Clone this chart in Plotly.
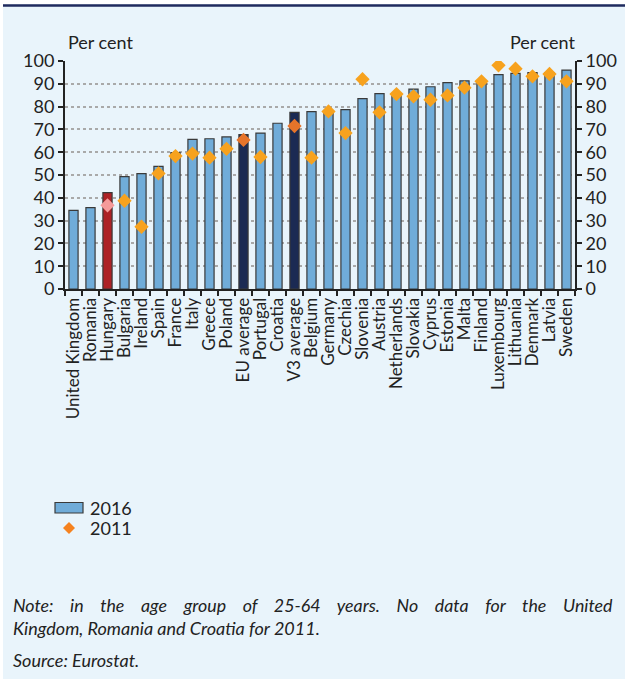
import plotly.graph_objects as go

categories = ["United Kingdom", "Romania", "Hungary", "Bulgaria", "Ireland", "Spain", "France",
              "Italy", "Greece", "Poland", "EU average", "Portugal", "Croatia", "V3 average",
              "Belgium", "Germany", "Czechia", "Slovenia", "Austria", "Netherlands", "Slovakia",
              "Cyprus", "Estonia", "Malta", "Finland", "Luxembourg", "Lithuania", "Denmark",
              "Latvia", "Sweden"]
values_2016 = [34.5, 35.7, 42.3, 49.3, 50.6, 53.8, 59.8, 65.6, 65.9, 66.7, 67.7, 68.4, 72.7, 77.5,
               77.8, 77.9, 78.7, 83.5, 85.7, 85.6, 87.7, 88.7, 90.5, 91.3, 91.2, 94.0, 94.6, 94.9,
               94.9, 96.0]
values_2011 = [None, None, 36.7, 38.7, 27.3, 50.7, 58.3, 59.4, 57.6, 61.5, 65.4, 57.9, None, 71.5,
               57.6, 77.9, 68.4, 92.0, 77.5, 85.5, 84.5, 83.0, 84.9, 88.3, 91.1, 98.1, 96.6, 93.3,
               94.3, 91.1]
y_ticks = [0, 10, 20, 30, 40, 50, 60, 70, 80, 90, 100]

BLUE = "#70acd9"
RED = "#ad2226"
NAVY = "#1b2a53"
ORANGE = "#f7a21e"
DORANGE = "#e6742a"
PINK = "#f59a9a"

bar_colors = []
dia_colors = []
for c in categories:
    if c == "Hungary":
        bar_colors.append(RED); dia_colors.append(PINK)
    elif c in ("EU average", "V3 average"):
        bar_colors.append(NAVY); dia_colors.append(DORANGE)
    else:
        bar_colors.append(BLUE); dia_colors.append(ORANGE)

FONT = "Lato"
TXT = "#222222"

fig = go.Figure()
fig.add_trace(go.Bar(x=categories, y=values_2016, name="2016", width=0.54,
                     marker=dict(color=bar_colors, line=dict(color="#3a3a3a", width=1.2)),
                     showlegend=False))
fig.add_trace(go.Scatter(x=categories, y=values_2011, name="2011", mode="markers",
                         marker=dict(symbol="diamond", size=11, color=dia_colors),
                         showlegend=False))
# right axis helper
fig.add_trace(go.Scatter(x=[categories[0]], y=[None], yaxis="y2", showlegend=False,
                         hoverinfo="skip"))

W, H = 625, 679
L, R, T, B = 65, 50, 61, 390
pw = W - L - R
ph = H - T - B


def px(x):
    return (x - L) / pw


def py(y):
    return (H - B - y) / ph


def sp(n):
    return "&nbsp;" * n


words1 = ["Note:", "in", "the", "age", "group", "of", "25-64", "years.", "No", "data", "for",
          "the", "United"]
note1 = sp(4).join(words1)


def ann(text, x, y, size, xanchor="left"):
    return dict(text=text, x=px(x), y=py(y), xref="paper", yref="paper", xanchor=xanchor,
                yanchor="middle", showarrow=False, font=dict(size=size, color=TXT))


fig.update_layout(
    width=W, height=H,
    margin=dict(l=L, r=R, t=T, b=B, autoexpand=False),
    paper_bgcolor="#e9f4fb",
    plot_bgcolor="#e9f4fb",
    font=dict(family=FONT, color=TXT, size=16),
    showlegend=False,
    xaxis=dict(type="category", range=[-0.5, len(categories) - 0.5],
               tickmode="array", tickvals=categories, ticktext=categories,
               tickangle=-90, showgrid=False, showline=True, automargin=False,
               linecolor="#222222", linewidth=2, ticks="outside", tickson="boundaries",
               ticklen=5, tickwidth=2, tickcolor="#222222",
               tickfont=dict(size=17, family=FONT, color=TXT)),
    yaxis=dict(range=[0, 100], tickvals=y_ticks, showline=True, linecolor="#222222",
               linewidth=2, ticks="outside", ticklen=5, tickwidth=2, tickcolor="#222222",
               showgrid=True, gridcolor="#a9a9a9", griddash="dot", gridwidth=1.5,
               zeroline=False, automargin=False, tickfont=dict(size=18, color=TXT)),
    yaxis2=dict(range=[0, 100], tickvals=y_ticks, overlaying="y", side="right",
                showline=True, linecolor="#222222", linewidth=2, ticks="outside",
                ticklen=5, tickwidth=2, tickcolor="#222222", showgrid=False,
                zeroline=False, automargin=False, tickfont=dict(size=18, color=TXT)),
    shapes=[
        dict(type="rect", xref="paper", yref="paper", x0=px(0), x1=px(W), y0=py(0), y1=py(4),
             fillcolor="white", line=dict(width=0), layer="below"),
        dict(type="rect", xref="paper", yref="paper", x0=px(0), x1=px(3), y0=py(0), y1=py(H),
             fillcolor="white", line=dict(width=0), layer="below"),
        dict(type="line", xref="paper", yref="paper", x0=px(3), x1=px(W), y0=py(5.5), y1=py(5.5),
             line=dict(color="#1f2b5e", width=2.5)),
        # legend swatches
        dict(type="rect", xref="paper", yref="paper", x0=px(55), x1=px(83), y0=py(502.5),
             y1=py(513), fillcolor=BLUE, line=dict(color="#3a3a3a", width=1.2)),
        dict(type="path", xref="paper", yref="paper",
             path=f"M {px(63)},{py(528)} L {px(69)},{py(522)} L {px(75)},{py(528)} "
                  f"L {px(69)},{py(534)} Z",
             fillcolor="#f5821f", line=dict(width=0)),
    ],
    annotations=[
        ann("Per cent", 100, 42, 18, "center"),
        ann("Per cent", 542, 42, 18, "center"),
        ann("2016", 88, 508, 18),
        ann("2011", 88, 528, 18),
        ann("<i>" + note1 + "</i>", 11, 605, 17.8),
        ann("<i>Kingdom, Romania and Croatia for 2011.</i>", 11, 628, 18),
        ann("<i>Source: Eurostat.</i>", 11, 660, 18),
    ],
)

fig.write_html("out.html", config={"displayModeBar": False},
               post_script="document.body.style.margin='0';")
